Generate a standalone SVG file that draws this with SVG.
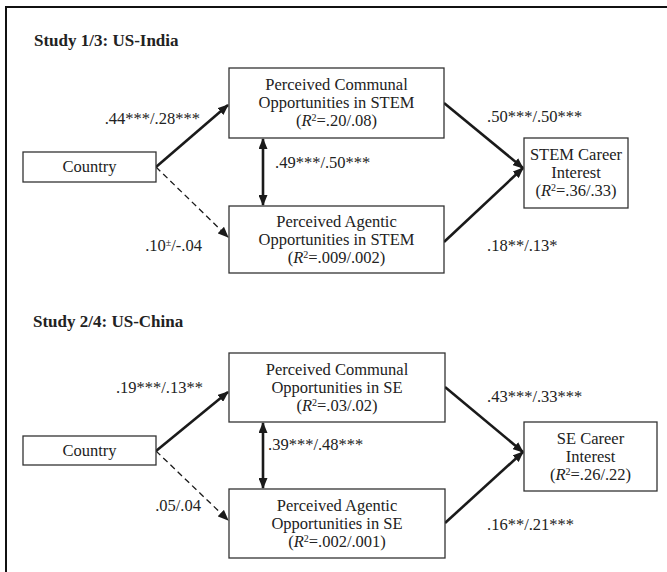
<svg xmlns="http://www.w3.org/2000/svg" width="667" height="572" viewBox="0 0 667 572">
<defs>
<style>
text{font-family:"Liberation Serif","Times New Roman",serif;fill:#222;font-size:16.5px}
.c{text-anchor:middle}
.e{text-anchor:end}
.t{font-weight:bold;font-size:17px}
.box{fill:#fff;stroke:#333;stroke-width:1.3}
.s{stroke:#1a1a1a;stroke-width:2.6;fill:none}
.d{stroke:#1a1a1a;stroke-width:1.3;fill:none;stroke-dasharray:6 4}
.i{font-style:italic}
.sup{font-size:10px}
</style>
<marker id="ah" markerUnits="userSpaceOnUse" viewBox="0 0 11 9" markerWidth="11" markerHeight="9" refX="10" refY="4.5" orient="auto-start-reverse">
<path d="M0,0 L11,4.5 L0,9 z" fill="#1a1a1a"/>
</marker>
</defs>
<rect width="667" height="572" fill="#fff"/>
<path d="M6,572 V7 H667" fill="none" stroke="#111" stroke-width="2"/>

<text class="t" x="34" y="46">Study 1/3: US-India</text>
<text class="t" x="33" y="327">Study 2/4: US-China</text>

<g id="connectors">
<line class="s" x1="156" y1="167" x2="228" y2="105" marker-end="url(#ah)"/>
<line class="d" x1="156" y1="167" x2="228" y2="237" marker-end="url(#ah)"/>
<line class="s" x1="263" y1="139" x2="263" y2="205" marker-start="url(#ah)" marker-end="url(#ah)"/>
<line class="s" x1="444" y1="103" x2="523" y2="168" marker-end="url(#ah)"/>
<line class="s" x1="444" y1="242" x2="523" y2="168" marker-end="url(#ah)"/>

<line class="s" x1="156" y1="451" x2="228" y2="392" marker-end="url(#ah)"/>
<line class="d" x1="156" y1="451" x2="228" y2="520" marker-end="url(#ah)"/>
<line class="s" x1="263" y1="423" x2="263" y2="488" marker-start="url(#ah)" marker-end="url(#ah)"/>
<line class="s" x1="445" y1="387" x2="523" y2="452" marker-end="url(#ah)"/>
<line class="s" x1="445" y1="523" x2="523" y2="452" marker-end="url(#ah)"/>

<text class="e" x="200" y="124">.44***/.28***</text>
<text x="275" y="168">.49***/.50***</text>
<text class="e" x="202" y="251">.10<tspan class="sup" baseline-shift="super">±</tspan>/-.04</text>
<text x="487" y="122">.50***/.50***</text>
<text x="487" y="251">.18**/.13*</text>

<text class="e" x="203" y="393">.19***/.13**</text>
<text x="268" y="450">.39***/.48***</text>
<text class="e" x="201" y="511">.05/.04</text>
<text x="487" y="402">.43***/.33***</text>
<text x="487" y="530">.16**/.21***</text>
</g>

<g id="country1">
<rect class="box" x="23" y="152" width="133" height="30"/>
<text class="c" x="89.5" y="172">Country</text>
</g>
<g id="communal1">
<rect class="box" x="229" y="68" width="215" height="70"/>
<text class="c" x="336.5" y="90">Perceived Communal</text>
<text class="c" x="336.5" y="108">Opportunities in STEM</text>
<text class="c" x="336.5" y="126">(<tspan class="i">R</tspan><tspan class="sup" baseline-shift="super">2</tspan>=.20/.08)</text>
</g>
<g id="agentic1">
<rect class="box" x="229" y="206" width="215" height="67"/>
<text class="c" x="336.5" y="227">Perceived Agentic</text>
<text class="c" x="336.5" y="245">Opportunities in STEM</text>
<text class="c" x="336.5" y="263">(<tspan class="i">R</tspan><tspan class="sup" baseline-shift="super">2</tspan>=.009/.002)</text>
</g>
<g id="stem">
<rect class="box" x="524" y="138" width="104" height="70"/>
<text class="c" x="576" y="160">STEM Career</text>
<text class="c" x="576" y="178">Interest</text>
<text class="c" x="576" y="196">(<tspan class="i">R</tspan><tspan class="sup" baseline-shift="super">2</tspan>=.36/.33)</text>
</g>

<g id="country2">
<rect class="box" x="23" y="436" width="133" height="29"/>
<text class="c" x="89.5" y="456">Country</text>
</g>
<g id="communal2">
<rect class="box" x="229" y="353" width="216" height="69"/>
<text class="c" x="337" y="375">Perceived Communal</text>
<text class="c" x="337" y="393">Opportunities in SE</text>
<text class="c" x="337" y="411">(<tspan class="i">R</tspan><tspan class="sup" baseline-shift="super">2</tspan>=.03/.02)</text>
</g>
<g id="agentic2">
<rect class="box" x="229" y="489" width="216" height="69"/>
<text class="c" x="337" y="511">Perceived Agentic</text>
<text class="c" x="337" y="529">Opportunities in SE</text>
<text class="c" x="337" y="547">(<tspan class="i">R</tspan><tspan class="sup" baseline-shift="super">2</tspan>=.002/.001)</text>
</g>
<g id="se">
<rect class="box" x="524" y="422" width="133" height="69"/>
<text class="c" x="590.5" y="444">SE Career</text>
<text class="c" x="590.5" y="462">Interest</text>
<text class="c" x="590.5" y="480">(<tspan class="i">R</tspan><tspan class="sup" baseline-shift="super">2</tspan>=.26/.22)</text>
</g>
</svg>
